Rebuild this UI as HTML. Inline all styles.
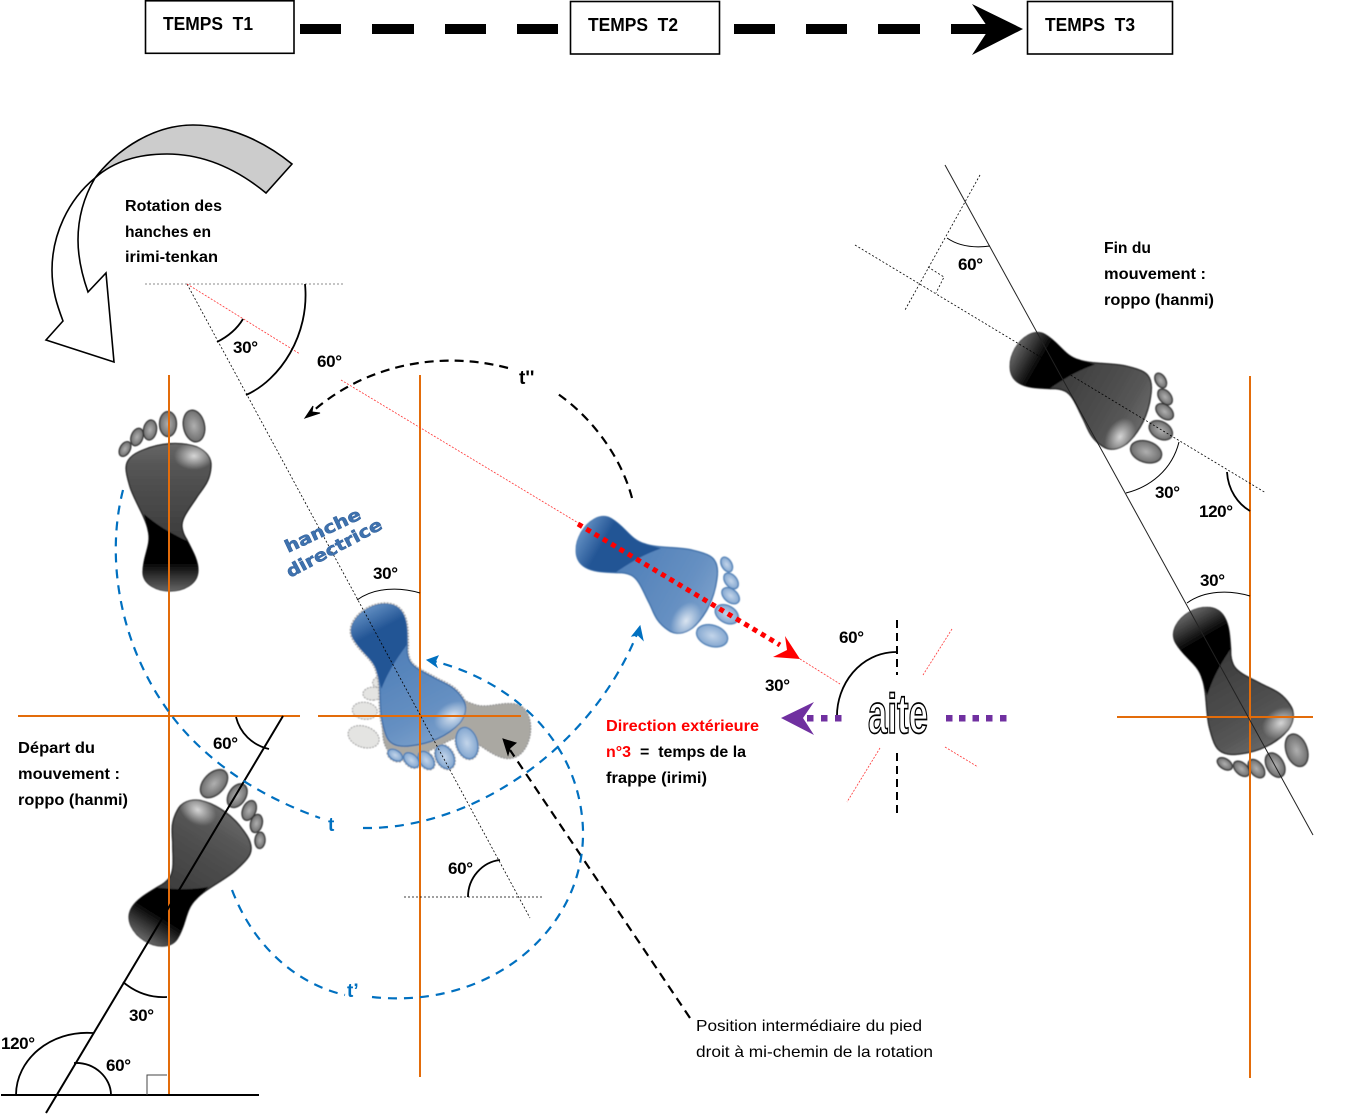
<!DOCTYPE html>
<html><head><meta charset="utf-8"><style>
html,body{margin:0;padding:0;background:#fff}
svg{display:block}
text{font-family:"Liberation Sans",sans-serif;font-weight:bold;font-size:16px;fill:#000}
</style></head><body>
<svg width="1351" height="1114" viewBox="0 0 1351 1114" xmlns="http://www.w3.org/2000/svg">
<defs>
<linearGradient id="gk" x1="0" y1="-60" x2="0" y2="45" gradientUnits="userSpaceOnUse">
<stop offset="0" stop-color="#6a6a6a"/><stop offset=".25" stop-color="#555"/><stop offset="1" stop-color="#3a3a3a"/>
</linearGradient>
<linearGradient id="gk2" x1="0" y1="15" x2="0" y2="91" gradientUnits="userSpaceOnUse">
<stop offset="0" stop-color="#000"/><stop offset=".62" stop-color="#000"/><stop offset="1" stop-color="#666"/>
</linearGradient>
<linearGradient id="gb" x1="0" y1="-60" x2="0" y2="45" gradientUnits="userSpaceOnUse">
<stop offset="0" stop-color="#7ba0cb"/><stop offset=".3" stop-color="#6690c2"/><stop offset="1" stop-color="#4f7fb8"/>
</linearGradient>
<linearGradient id="gb2" x1="0" y1="15" x2="0" y2="91" gradientUnits="userSpaceOnUse">
<stop offset="0" stop-color="#235595"/><stop offset=".68" stop-color="#235595"/><stop offset="1" stop-color="#5f8cc0"/>
</linearGradient>
<radialGradient id="hl"><stop offset="0" stop-color="#fff" stop-opacity=".75"/><stop offset="1" stop-color="#fff" stop-opacity="0"/></radialGradient>
<radialGradient id="tk"><stop offset="0" stop-color="#b0b0b0"/><stop offset="1" stop-color="#6e6e6e"/></radialGradient>
<radialGradient id="tb"><stop offset="0" stop-color="#c3d5ea"/><stop offset="1" stop-color="#84a7d0"/></radialGradient>
<path id="sole" d="M-44,-32C-44,-42-35,-47-27,-50C-10,-57 10,-59 27,-53C36,-49 42,-42 41,-33C40,-18 33,-12 27,-3C20,8 11,18 12,27C13,35 16,38 17,40C22,50 28,60 28,70C28,85 12,91 0,91C-12,91-27,85-27,72C-27,55-18,45-22,30C-24,18-36,0-40,-13C-42,-20-44,-26-44,-32Z"/>
<path id="dark" d="M-26,14C-10,28 5,35 17,41C22,50 28,60 28,70C28,85 12,91 0,91C-12,91-27,85-27,72C-27,55-18,45-22,30C-23,24-25,19-26,14Z"/>
<clipPath id="cs"><use href="#sole"/></clipPath>
<g id="toes">
<ellipse cx="24" cy="-74" rx="10.500" ry="16" transform="rotate(-12 24 -74)"/>
<ellipse cx="-2" cy="-76" rx="8.500" ry="12.500"/>
<ellipse cx="-20" cy="-70" rx="6.500" ry="10" transform="rotate(10 -20 -70)"/>
<ellipse cx="-33" cy="-63" rx="5.800" ry="9" transform="rotate(20 -33 -63)"/>
<ellipse cx="-45" cy="-51" rx="5" ry="8" transform="rotate(30 -45 -51)"/>
</g>
<g id="footK">
<use href="#sole" fill="url(#gk)" stroke="#1a1a1a" stroke-width="1.200"/>
<use href="#dark" fill="url(#gk2)"/>
<g clip-path="url(#cs)"><ellipse cx="24" cy="-44" rx="20" ry="14" fill="url(#hl)"/></g>
<use href="#toes" fill="url(#tk)" stroke="#333" stroke-width="1.300"/>
</g>
<g id="footB">
<use href="#sole" fill="url(#gb)" stroke="#3d6ea8" stroke-width="1.300"/>
<use href="#dark" fill="url(#gb2)"/>
<g clip-path="url(#cs)"><ellipse cx="24" cy="-44" rx="20" ry="14" fill="url(#hl)"/></g>
<use href="#toes" fill="url(#tb)" stroke="#4f7fb5" stroke-width="1.300"/>
</g>
<filter id="sf" x="-10%" y="-10%" width="120%" height="120%"><feGaussianBlur stdDeviation=".6"/></filter>
</defs>

<!-- header -->
<g fill="#fff" stroke="#000" stroke-width="1.600">
<rect x="145.500" y=".8" width="148.500" height="52.500"/>
<rect x="570.500" y="1.500" width="149" height="52.500"/>
<rect x="1027.500" y="1.500" width="145" height="52.500"/>
</g>
<text x="163" y="30" textLength="90" lengthAdjust="spacingAndGlyphs" style="font-size:18px">TEMPS&#160; T1</text>
<text x="588" y="31" textLength="90" lengthAdjust="spacingAndGlyphs" style="font-size:18px">TEMPS&#160; T2</text>
<text x="1045" y="31" textLength="90" lengthAdjust="spacingAndGlyphs" style="font-size:18px">TEMPS&#160; T3</text>
<g fill="#000">
<rect x="300" y="24" width="41" height="10"/><rect x="372" y="24" width="42" height="10"/><rect x="445" y="24" width="41" height="10"/><rect x="517" y="24" width="41" height="10"/>
<rect x="734" y="24" width="41" height="10"/><rect x="806" y="24" width="41" height="10"/><rect x="878" y="24" width="42" height="10"/><rect x="951" y="24" width="45" height="10"/>
<path d="M972,4L1023,29L972,55L989,29Z"/>
</g>

<!-- rotation arrow -->
<path d="M292,164C265,142 230,125 193,125C155,125 118,148 95,178C115,160 140,154 167,154C205,154 238,170 266,193Z" fill="#ccc" stroke="#000" stroke-width="1.600"/>
<path d="M95,178C68,200 52,235 52,270C52,290 57,305 63,321L46,340L114,362L106,273L88,292C82,275 78,258 78,240C78,215 85,195 95,178Z" fill="#fff" stroke="#000" stroke-width="1.600"/>

<!-- feet -->
<g filter="url(#sf)">
<use href="#footK" transform="translate(170,500)"/>
<use href="#footK" transform="translate(194,861) rotate(32) scale(-1,1.030)"/>
<use href="#footK" transform="translate(1094,394) rotate(120)"/>
<use href="#footK" transform="translate(1237,695) rotate(150) scale(-1,1.050)"/>
<g transform="translate(440,722) rotate(-83) scale(-1,1)">
<use href="#sole" fill="#aaa8a2" stroke="#999" stroke-width="1.500" stroke-dasharray="2 1"/>
<use href="#toes" fill="#e4e4e2" stroke="#aaa" stroke-width="1.200" stroke-dasharray="2 1"/>
</g>
<use href="#footB" transform="translate(660,578) rotate(120)"/>
<g transform="translate(411,689) rotate(152) scale(-1,1)">
<use href="#sole" fill="none" stroke="#aaa" stroke-width="4" stroke-dasharray="2 1"/>
<use href="#toes" fill="none" stroke="#aaa" stroke-width="3" stroke-dasharray="2 1"/>
<use href="#footB"/>
</g>
</g>

<!-- orange axes -->
<g stroke="#e36c0a" stroke-width="2" fill="none">
<path d="M169,375V1095M18,716H300"/>
<path d="M420,375V1077M318,716H521"/>
<path d="M1250,376V1078M1117,717H1313"/>
</g>

<!-- thin dotted -->
<g fill="none" stroke="#000" stroke-width=".8" stroke-dasharray="2 2">
<path d="M145,284H344" stroke="#666"/>
<path d="M187,284L530,918"/>
<path d="M404,897H544"/>
<path d="M855,245L1266,493"/>
<path d="M980,175L905,310"/>
<path d="M928,267L944,277L936,293"/>
</g>
<g fill="none" stroke="#f33" stroke-width=".8" stroke-dasharray="2 1.500">
<path d="M187,284L300,354"/>
<path d="M341,380L580,524"/>
<path d="M800,659L840,684"/>
<path d="M952,629L923,675"/>
<path d="M880,748L847,802"/>
<path d="M945,747L978,767"/>
</g>

<!-- solid thin lines -->
<path d="M945,165L1313,835" stroke="#222" stroke-width="1" fill="none"/>
<path d="M1,1095H259" stroke="#000" stroke-width="2"/>
<path d="M283,716L46,1113" stroke="#000" stroke-width="2"/>
<path d="M147,1095V1075H167" stroke="#444" stroke-width="1" fill="none"/>

<!-- angle arcs -->
<g fill="none" stroke="#000" stroke-width="1.800">
<path d="M217,342C229,336 237,329 243,319"/>
<path d="M305,284C310,335 280,380 246,395"/>
<path d="M236,717C240,733 252,745 269,749"/>
<path d="M123,982C135,992 150,998 167,997"/>
<path d="M16,1095C16,1060 50,1030 93,1033"/>
<path d="M74,1063C95,1062 111,1078 111,1095"/>
<path d="M897,652C860,652 836,685 837,718"/>
<path d="M1227,472C1228,490 1238,504 1250,511"/>
<path d="M468,897C468,878 482,862 500,860"/>
</g>
<g fill="none" stroke="#000" stroke-width="1">
<path d="M357,600C375,587 400,587 420,593"/>
<path d="M947,238C960,247 975,248 990,246"/>
<path d="M1179,442C1172,470 1150,487 1126,493"/>
<path d="M1187,603C1205,590 1230,590 1250,596"/>
</g>

<!-- dashed black -->
<g fill="none" stroke="#000" stroke-width="2.200" stroke-dasharray="9 6">
<path d="M632,498C622,460 595,420 558,394"/>
<path d="M508,368C440,350 365,365 312,412"/>
<path d="M690,1018L510,750"/>
</g>
<path d="M897,620V675M897,753V818" stroke="#000" stroke-width="2" stroke-dasharray="8 5" fill="none"/>
<path d="M305,418L313,406L312,412L320,413Z" fill="#000" stroke="#000"/>
<path d="M503,739L516,743L510,748L508,755Z" fill="#000" stroke="#000"/>

<!-- blue arcs -->
<g fill="none" stroke="#0070c0" stroke-width="2.200" stroke-dasharray="9 7">
<path d="M123,490C105,560 120,650 175,720C215,770 270,800 320,818"/>
<path d="M363,828C470,830 590,750 637,634"/>
<path d="M232,890C255,950 300,985 345,995"/>
<path d="M372,997C490,1010 585,930 583,830C580,740 510,680 433,661"/>
</g>
<path d="M640,626L643,640L638,635L632,636Z" fill="#0070c0" stroke="#0070c0"/>
<path d="M427,660L438,656L435,662L437,667Z" fill="#0070c0" stroke="#0070c0"/>

<!-- red thick dotted -->
<path d="M578,524L780,645" stroke="#f00" stroke-width="5" stroke-dasharray="5 4.700" fill="none"/>
<path d="M785,636L800,659L773,657L787,650Z" fill="#f00"/>

<!-- purple -->
<path d="M781,718L814,702L803,718L814,735Z" fill="#7030a0"/>
<g fill="#7030a0">
<rect x="807" y="715" width="6.500" height="6.500"/><rect x="821" y="715" width="6.500" height="6.500"/><rect x="835" y="715" width="6.500" height="6.500"/>
<rect x="946" y="715" width="6.500" height="6.500"/><rect x="959" y="715" width="6.500" height="6.500"/><rect x="972.500" y="715" width="6.500" height="6.500"/><rect x="986" y="715" width="6.500" height="6.500"/><rect x="1000" y="715" width="6.500" height="6.500"/>
</g>

<!-- aite -->
<text x="868" y="733" textLength="60" lengthAdjust="spacingAndGlyphs" style="font-size:56px;fill:#fff;stroke:#000;stroke-width:1.700">aite</text>

<!-- hanche directrice -->
<text transform="translate(288,553) rotate(-25)" textLength="82" lengthAdjust="spacingAndGlyphs" style="font-family:'DejaVu Sans',sans-serif;font-size:17px;fill:#3f72ae;stroke:#2f5f9a;stroke-width:.5">hanche</text>
<text transform="translate(290,578) rotate(-28)" textLength="106" lengthAdjust="spacingAndGlyphs" style="font-family:'DejaVu Sans',sans-serif;font-size:17px;fill:#3f72ae;stroke:#2f5f9a;stroke-width:.5">directrice</text>

<!-- labels -->
<text x="125" y="211" textLength="97" lengthAdjust="spacingAndGlyphs">Rotation des</text>
<text x="125" y="237" textLength="86" lengthAdjust="spacingAndGlyphs">hanches en</text>
<text x="125" y="262" textLength="93" lengthAdjust="spacingAndGlyphs">irimi-tenkan</text>
<text x="18" y="753" textLength="77" lengthAdjust="spacingAndGlyphs">Départ du</text>
<text x="18" y="779" textLength="102" lengthAdjust="spacingAndGlyphs">mouvement :</text>
<text x="18" y="805" textLength="110" lengthAdjust="spacingAndGlyphs">roppo (hanmi)</text>
<text x="1104" y="253" textLength="47" lengthAdjust="spacingAndGlyphs">Fin du</text>
<text x="1104" y="279" textLength="102" lengthAdjust="spacingAndGlyphs">mouvement :</text>
<text x="1104" y="305" textLength="110" lengthAdjust="spacingAndGlyphs">roppo (hanmi)</text>
<text x="606" y="731" textLength="153" lengthAdjust="spacingAndGlyphs" style="fill:#f00">Direction extérieure</text>
<text x="606" y="757" textLength="25" lengthAdjust="spacingAndGlyphs" style="fill:#f00">n°3</text>
<text x="640" y="757" textLength="106" lengthAdjust="spacingAndGlyphs">=&#160; temps de la</text>
<text x="606" y="783" textLength="101" lengthAdjust="spacingAndGlyphs">frappe (irimi)</text>
<text x="696" y="1031" textLength="226" lengthAdjust="spacingAndGlyphs" style="font-weight:normal">Position intermédiaire du pied</text>
<text x="696" y="1057" textLength="237" lengthAdjust="spacingAndGlyphs" style="font-weight:normal">droit à mi-chemin de la rotation</text>
<g>
<text x="233" y="353" textLength="25" style="font-size:17px">30°</text><text x="317" y="367" textLength="25" style="font-size:17px">60°</text>
<text x="373" y="579" textLength="25" style="font-size:17px">30°</text><text x="213" y="749" textLength="25" style="font-size:17px">60°</text>
<text x="129" y="1021" textLength="25" style="font-size:17px">30°</text><text x="1" y="1049" textLength="34" style="font-size:17px">120°</text><text x="106" y="1071" textLength="25" style="font-size:17px">60°</text>
<text x="448" y="874" textLength="25" style="font-size:17px">60°</text>
<text x="839" y="643" textLength="25" style="font-size:17px">60°</text><text x="765" y="691" textLength="25" style="font-size:17px">30°</text>
<text x="958" y="270" textLength="25" style="font-size:17px">60°</text><text x="1155" y="498" textLength="25" style="font-size:17px">30°</text><text x="1199" y="517" textLength="34" style="font-size:17px">120°</text><text x="1200" y="586" textLength="25" style="font-size:17px">30°</text>
</g>
<text x="519" y="384" style="font-size:19px">t''</text>
<text x="328" y="831" style="font-size:19px;fill:#0070c0">t</text>
<text x="347" y="997" style="font-size:19px;fill:#0070c0">t’</text>
</svg>
</body></html>
